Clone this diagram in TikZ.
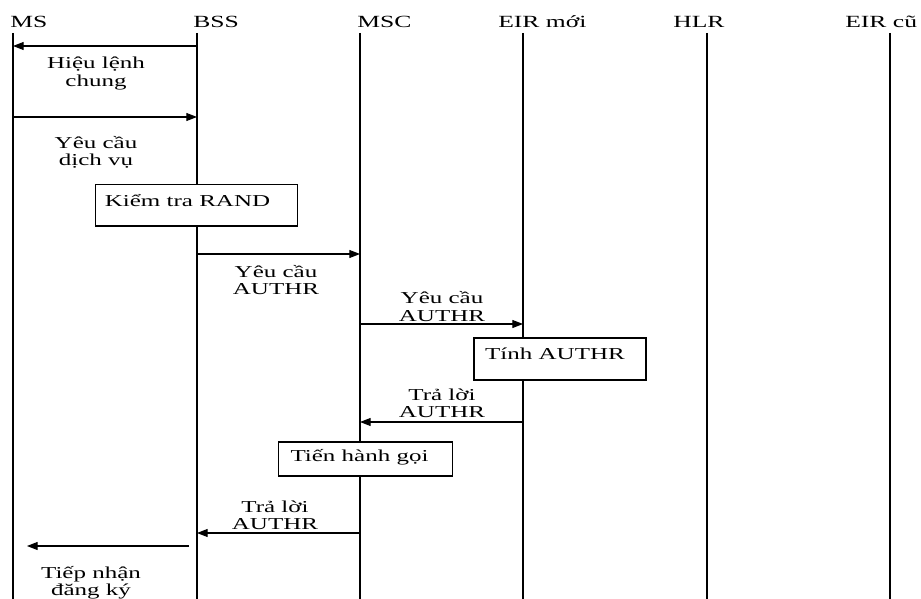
\documentclass[tikz,border=0pt]{standalone}
\usepackage{fontspec}
\setmainfont[FakeStretch=1.5]{Liberation Serif}
\usetikzlibrary{arrows.meta,positioning}
\tikzset{
  >={Triangle[length=8pt,width=6pt]},
  lifeline/.style={line width=0.8pt, draw=black},
  msg/.style={->, line width=0.8pt, draw=black},
  procbox/.style={
    draw=black,
    line width=0.8pt,
    fill=white,
    inner sep=0pt
  },
  head/.style={anchor=base west, inner sep=0pt, font=\fontsize{12.8}{13}\selectfont},
  msglabel/.style={align=center, inner sep=0pt, font=\fontsize{12.5}{13}\selectfont},
  boxtext/.style={inner sep=0pt, font=\fontsize{12.5}{13}\selectfont}
}
\begin{document}
\begin{tikzpicture}[x=0.75pt, y=-0.75pt]
  \useasboundingbox (0,0) rectangle (921,599);

  % entity heads
  \node[head] (hms) at (10,28) {MS};
  \node[head] (hbss) at (193,28) {BSS};
  \node[head] (hmsc) at (357,28) {MSC};
  \node[head] (heirnew) at (498,28) {EIR mới};
  \node[head] (hhlr) at (673,28) {HLR};
  \node[head] (heirold) at (845,28) {EIR cũ};

  % lifelines
  \foreach \name/\x in {ms/13, bss/197, msc/360, eirnew/523, hlr/707, eirold/890} {
    \coordinate (\name) at (\x,33);
    \coordinate (\name-end) at (\x,599);
    \draw[lifeline] (\name) -- (\name-end);
  }

  % messages
  \draw[msg] (bss |- 0,46) -- (ms |- 0,46);
  \node[msglabel] (lcmd) at (96,73.5) {Hiệu lệnh\\chung};

  \draw[msg] (ms |- 0,117) -- (bss |- 0,117);
  \node[msglabel] (lreq) at (96,152.5) {Yêu cầu\\dịch vụ};

  \node[procbox, minimum width=152pt, minimum height=30.8pt] (randbox) at (196.5,205.5) {};
  \node[boxtext] (randtext) at (187.5,200.5) {Kiểm tra RAND};

  \draw[msg] (bss |- 0,254) -- (msc |- 0,254);
  \node[msglabel] (lauth1) at (276,280) {Yêu cầu\\AUTHR};

  \draw[msg] (msc |- 0,324) -- (eirnew |- 0,324);
  \node[msglabel] (lauth2) at (442,306.5) {Yêu cầu\\AUTHR};

  \node[procbox, minimum width=129pt, minimum height=31.5pt] (authbox) at (560,359) {};
  \node[boxtext] (authtext) at (555,353.5) {Tính AUTHR};

  \draw[msg] (eirnew |- 0,422) -- (msc |- 0,422);
  \node[msglabel] (lres1) at (442,403.5) {Trả lời\\AUTHR};

  \node[procbox, minimum width=131pt, minimum height=25.5pt] (callbox) at (365.5,459) {};
  \node[boxtext] (calltext) at (359.5,457.5) {Tiến hành gọi};

  \draw[msg] (msc |- 0,533) -- (bss |- 0,533);
  \node[msglabel] (lres2) at (275,515) {Trả lời\\AUTHR};

  \coordinate (accfrom) at (189,546);
  \coordinate (accto) at (27,546);
  \draw[msg] (accfrom) -- (accto);
  \node[msglabel] (lacc) at (91,583) {Tiếp nhận\\đăng ký};

\end{tikzpicture}
\end{document}
